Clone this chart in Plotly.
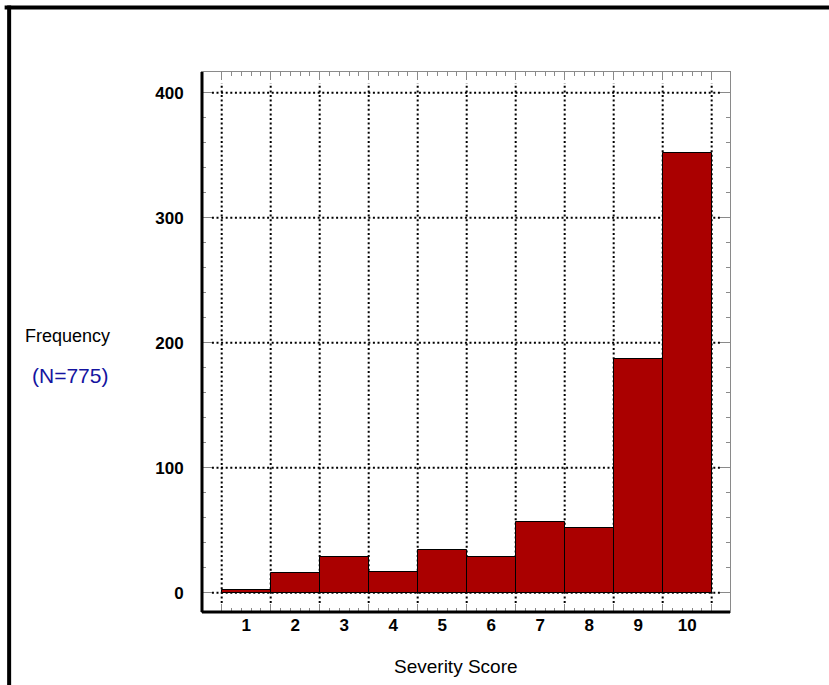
import plotly.graph_objects as go

# Severity score histogram data
scores = [1, 2, 3, 4, 5, 6, 7, 8, 9, 10]
score_labels = ["1", "2", "3", "4", "5", "6", "7", "8", "9", "10"]
frequency = [2, 16, 29, 17, 34, 29, 57, 52, 187, 352]
y_major = [0, 100, 200, 300, 400]

bar_color = "#AA0000"
tick_grey = "#8a8a8a"
font_family = "Liberation Sans, Arial, sans-serif"

# bin edges between the integer scores
edges = [s - 0.5 for s in scores] + [scores[-1] + 0.5]
minor_x = [round(e + k * 0.2, 1) for e in edges[:-1] for k in range(1, 5)]

x_range = [0.098, 10.874]
y_range = [-15.4, 416.6]

fig = go.Figure()
fig.add_trace(go.Bar(
    x=scores, y=frequency, width=1,
    marker=dict(color=bar_color, line=dict(color="black", width=1)),
    hoverinfo="x+y", showlegend=False,
))
# empty trace so the tick-only overlay axis is rendered
fig.add_trace(go.Scatter(x=[edges[0]], y=[None], xaxis="x2", yaxis="y",
                         mode="markers", showlegend=False, hoverinfo="skip"))

# dotted grid, kept inside the tick marks
grid = dict(color="black", width=2, dash="2px,2.6px")
for v in y_major:
    fig.add_shape(type="line", xref="x", yref="y", x0=0.30, x1=10.67, y0=v, y1=v,
                  line=grid, layer="below")
for e in edges:
    fig.add_shape(type="line", xref="x", yref="y", x0=e, x1=e, y0=-8.2, y1=407.8,
                  line=grid, layer="below")

# heavy left and bottom axis lines
fig.add_shape(type="line", xref="paper", yref="paper", x0=0, x1=0, y0=0, y1=1,
              line=dict(color="black", width=3), layer="above")
fig.add_shape(type="line", xref="paper", yref="paper", x0=0, x1=1, y0=0, y1=0,
              line=dict(color="black", width=3), layer="above")

# outer frame (top and left edges)
W, H = 527.0, 540.0
fig.add_shape(type="line", xref="paper", yref="paper",
              x0=(5 - 202) / W, x1=(840 - 202) / W, y0=(612 - 7.5) / H, y1=(612 - 7.5) / H,
              line=dict(color="black", width=4))
fig.add_shape(type="line", xref="paper", yref="paper",
              x0=(9.5 - 202) / W, x1=(9.5 - 202) / W, y0=(612 - 5.5) / H, y1=(612 - 700) / H,
              line=dict(color="black", width=4))

fig.add_annotation(text="Frequency", xref="paper", yref="paper",
                   x=(68 - 202) / W, y=(612 - 336) / H, showarrow=False,
                   xanchor="center", yanchor="middle",
                   font=dict(family=font_family, size=18, color="black"))
fig.add_annotation(text="(N=775)", xref="paper", yref="paper",
                   x=(70 - 202) / W, y=(612 - 376) / H, showarrow=False,
                   xanchor="center", yanchor="middle",
                   font=dict(family=font_family, size=21, color="#1414A0"))
fig.add_annotation(text="Severity Score", xref="paper", yref="paper",
                   x=(456 - 202) / W, y=(612 - 666) / H, showarrow=False,
                   xanchor="center", yanchor="middle",
                   font=dict(family=font_family, size=19, color="black"))

fig.update_layout(
    width=829, height=685,
    margin=dict(l=202, r=99, t=72, b=73),
    paper_bgcolor="white", plot_bgcolor="white",
    bargap=0,
    xaxis=dict(
        range=x_range, tickmode="array", tickvals=scores, ticktext=score_labels,
        ticks="", showline=False, showgrid=False, zeroline=False,
        tickfont=dict(family=font_family, size=17, color="black", weight="bold"),
        ticklabelstandoff=1,
    ),
    xaxis2=dict(
        overlaying="x", matches="x", side="bottom", anchor="y",
        tickmode="array", tickvals=edges, showticklabels=False,
        ticks="inside", ticklen=8, tickwidth=1, tickcolor=tick_grey,
        minor=dict(tickmode="array", tickvals=minor_x, ticks="inside",
                   ticklen=4, tickwidth=1, tickcolor=tick_grey),
        showline=True, linecolor=tick_grey, linewidth=1, mirror="ticks",
        showgrid=False, zeroline=False,
    ),
    yaxis=dict(
        range=y_range, tickmode="array", tickvals=y_major,
        ticks="inside", ticklen=10, tickwidth=1, tickcolor=tick_grey,
        minor=dict(dtick=20, tick0=0, ticks="inside", ticklen=4,
                   tickwidth=1, tickcolor=tick_grey),
        showline=True, linecolor=tick_grey, linewidth=1, mirror="ticks",
        showgrid=False, zeroline=False,
        tickfont=dict(family=font_family, size=17, color="black", weight="bold"),
        ticklabelstandoff=14,
    ),
)

fig.write_html("out.html")
